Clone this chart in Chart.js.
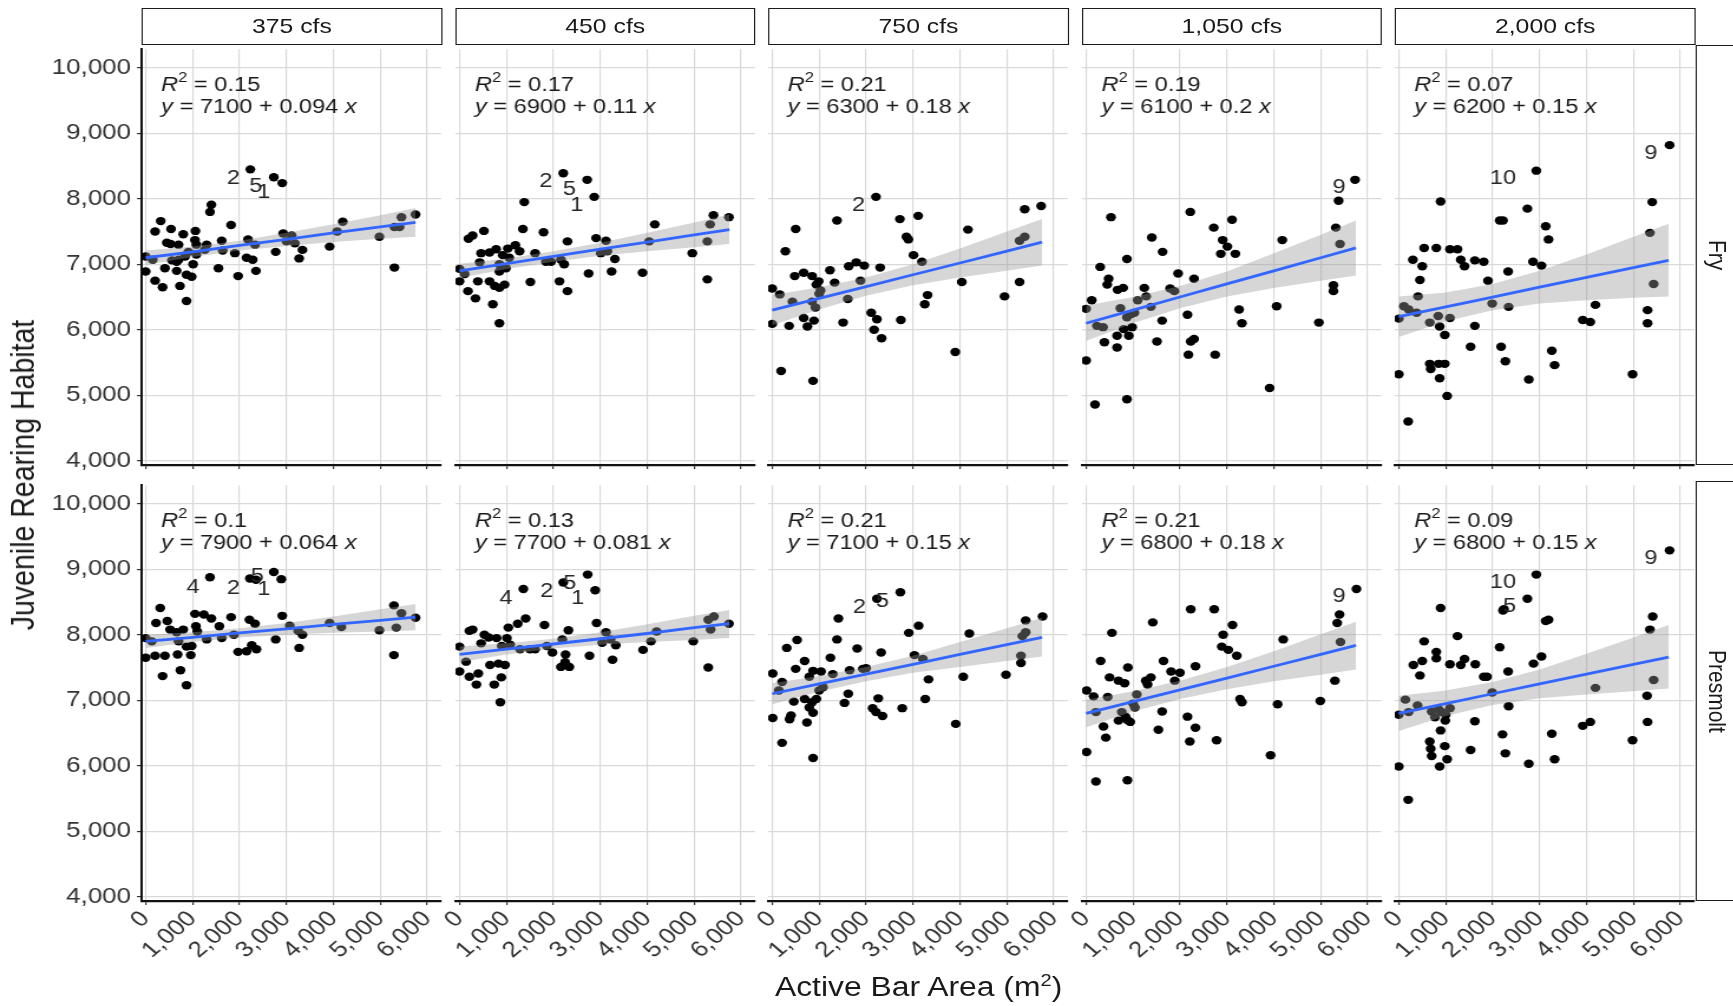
<!DOCTYPE html>
<html>
<head>
<meta charset="utf-8">
<title>Juvenile Rearing Habitat vs Active Bar Area</title>
<script src="https://cdn.jsdelivr.net/npm/chart.js@4.4.1/dist/chart.umd.min.js"></script>
<style>
  html, body { margin: 0; padding: 0; background: #fff; overflow: hidden; }
  /* the original figure is stretched sideways, so everything is laid out narrow and scaled */
  #fig { position: absolute; left: 0; top: 0; width: 1469px; height: 1006px;
         transform: scaleX(1.18); transform-origin: 0 0;
         font-family: "Liberation Sans", Arial, sans-serif; color: #1a1a1a; }
  #fig canvas { position: absolute; }
  .strip { position: absolute; box-sizing: border-box; border: 1.4px solid #1a1a1a; background: #fff;
           display: flex; align-items: center; justify-content: center; font-size: 21px; }
  .rstrip { writing-mode: vertical-rl; }
  .title { position: absolute; font-size: 27px; white-space: nowrap; }
</style>
</head>
<body>
<div id="fig"></div>
<script>
// ---- data ----
const flows = ['375 cfs', '450 cfs', '750 cfs', '1,050 cfs', '2,000 cfs'];
const stages = ['Fry', 'Presmolt'];
const xTicks = [0, 1000, 2000, 3000, 4000, 5000, 6000];
const yTicks = [4000, 5000, 6000, 7000, 8000, 9000, 10000];

const r2Fry = ['0.15', '0.17', '0.21', '0.19', '0.07'];
const eqFry = ['7100 + 0.094', '6900 + 0.11', '6300 + 0.18', '6100 + 0.2', '6200 + 0.15'];
const r2Pre = ['0.1', '0.13', '0.21', '0.21', '0.09'];
const eqPre = ['7900 + 0.064', '7700 + 0.081', '7100 + 0.15', '6800 + 0.18', '6800 + 0.15'];

// points: [active bar area, habitat]
const fry375 = [[2230,8450],[2730,8330],[2910,8240],[1400,7910],[1370,7800],[320,7660],[200,7500],[540,7540],[800,7460],[1060,7510],[1820,7600],[450,7330],[700,7300],[530,7310],[1050,7370],[1080,7300],[1300,7300],[1260,7220],[1620,7360],[1640,7210],[1900,7170],[2180,7380],[2330,7300],[2150,7100],[2280,7070],[2350,6900],[1970,6820],[1550,6940],[2770,7190],[2930,7470],[3110,7440],[3000,7350],[3180,7320],[3340,7220],[3270,7090],[3920,7270],[4080,7500],[4200,7650],[4980,7420],[5300,6950],[5300,7570],[5450,7720],[5410,7570],[5750,7760],[0,7120],[0,6890],[200,6750],[360,6650],[410,6940],[660,6900],[730,6670],[870,6440],[870,6840],[980,6810],[1010,7000],[700,7070],[840,7120],[910,7190],[150,7070],[660,7040],[560,7060],[1080,7150]];
const fry450 = [[2210,8390],[2720,8290],[2870,8030],[1380,7950],[1350,7540],[1790,7490],[520,7510],[280,7440],[190,7390],[2300,7350],[2910,7400],[3120,7360],[4160,7610],[5410,7750],[5740,7720],[5340,7610],[5280,7350],[4960,7170],[4040,7350],[5280,6770],[3900,6870],[3240,6890],[2750,6860],[2300,6590],[2130,6740],[1510,6730],[2230,7000],[2160,7070],[1950,7040],[1840,7040],[1610,7170],[3310,7080],[3010,7170],[3150,7200],[1280,7200],[1190,7290],[1030,7240],[780,7230],[640,7180],[460,7170],[430,7030],[850,7000],[990,6940],[850,6890],[0,6930],[110,6850],[0,6740],[180,6590],[340,6480],[390,6740],[640,6740],[750,6670],[850,6640],[960,6690],[710,6390],[850,6100],[1060,7100],[920,7140]];
const fry750 = [[2210,8030],[1380,7670],[500,7540],[280,7200],[2720,7690],[3110,7740],[2860,7420],[2900,7380],[4170,7530],[5380,7840],[5730,7890],[5380,7420],[5270,7360],[3010,7140],[3190,7040],[2300,6950],[1630,6970],[1790,7030],[1960,6980],[1230,6910],[1330,6720],[1880,6750],[1610,6470],[1030,6600],[990,6740],[850,6820],[670,6870],[480,6820],[0,6630],[160,6540],[430,6430],[850,6430],[920,6340],[890,6140],[670,6180],[750,6050],[360,6060],[0,6090],[1510,6110],[2110,6260],[2230,6160],[2170,6000],[2330,5870],[2740,6150],[3310,6530],[3250,6390],[4040,6730],[4950,6510],[5270,6730],[3900,5660],[190,5370],[870,5220],[1000,6550],[940,6690]];
const fry1050 = [[5730,8290],[5380,7970],[5320,7560],[5410,7310],[5270,6680],[5270,6590],[4960,6110],[4180,7370],[4060,6360],[3910,5110],[530,7720],[2220,7800],[2720,7560],[3110,7680],[2910,7370],[3010,7270],[2870,7160],[3180,7160],[1400,7410],[1630,7190],[870,7080],[300,6960],[1960,6860],[2300,6780],[480,6780],[450,6690],[670,6610],[790,6640],[1240,6640],[1280,6510],[1790,6630],[1880,6590],[1100,6450],[1380,6350],[120,6450],[0,6320],[730,6330],[960,6240],[1030,6260],[230,6060],[360,6040],[870,6190],[800,6010],[980,6040],[910,5910],[660,5910],[660,5730],[390,5810],[1620,6140],[2160,6230],[3260,6310],[3320,6100],[1510,5820],[2300,5860],[2230,5820],[2180,5620],[2750,5620],[0,5530],[190,4860],[870,4940]];
const fry2000 = [[5770,8820],[5400,7950],[5350,7480],[5430,6700],[5300,6300],[5300,6100],[4980,5320],[4190,6380],[3920,6150],[4080,6120],[2930,8430],[2740,7850],[2150,7670],[2220,7670],[3130,7580],[3190,7380],[2860,7040],[3040,6980],[2330,6890],[1900,6750],[1990,6400],[2340,6350],[1620,7060],[1810,7040],[1250,7230],[1090,7230],[800,7250],[540,7250],[300,7070],[500,6970],[1320,7070],[1400,6970],[450,6760],[410,6510],[890,7960],[110,6360],[210,6310],[380,6260],[0,6170],[660,6110],[840,6210],[1090,6180],[870,6050],[980,5920],[1620,6060],[1530,5740],[2180,5740],[2270,5520],[2770,5240],[3260,5680],[3320,5460],[660,5480],[980,5480],[870,5260],[1030,4990],[0,5320],[200,4600],[680,5400],[850,5480]];
const pre375 = [[2730,8960],[2890,8850],[2220,8860],[2350,8840],[1370,8880],[310,8410],[220,8180],[460,8210],[1050,8320],[1240,8310],[1400,8250],[1820,8270],[2210,8230],[2330,8170],[2910,8290],[3070,8140],[3250,8060],[3340,8000],[3920,8180],[4170,8120],[4980,8070],[5290,8450],[5450,8330],[5340,8110],[5750,8260],[5290,7690],[3270,7800],[2770,7930],[1570,8130],[1620,7950],[1300,7930],[1070,8130],[800,8080],[520,8080],[660,8040],[700,7900],[130,7900],[0,7950],[0,7650],[200,7680],[410,7680],[680,7700],[960,7690],[980,7830],[870,7820],[360,7370],[740,7460],[870,7230],[1970,7740],[2150,7750],[2260,7840],[2360,7780],[1880,8000],[1100,8050]];
const pre450 = [[2730,8920],[2890,8680],[2210,8800],[1360,8700],[1410,8250],[1240,8170],[1040,8110],[280,8080],[210,8060],[1810,8150],[2320,8070],[2920,8180],[3120,8040],[3040,7880],[3220,7930],[3330,7840],[4200,8050],[4080,7900],[3910,7770],[4980,7900],[5300,7500],[5420,8280],[5300,8230],[5350,8080],[5740,8170],[3260,7620],[2770,7680],[2260,7700],[2250,7580],[2160,7510],[2340,7510],[2190,7930],[1980,7730],[1860,7830],[1610,7780],[1500,7780],[1290,7780],[530,8000],[460,7870],[620,7960],[790,7950],[1010,7950],[900,7830],[1080,7850],[0,7820],[140,7590],[0,7440],[210,7360],[400,7410],[360,7240],[740,7240],[890,7350],[650,7540],[830,7560],[970,7540],[870,6970]];
const pre750 = [[2730,8650],[2230,8550],[1410,8250],[1380,7930],[530,7920],[310,7800],[690,7600],[500,7480],[1240,7650],[1810,7790],[2320,7730],[2910,8030],[3120,8140],[3030,7690],[3210,7630],[4200,8020],[5400,8220],[5760,8280],[5400,8040],[5330,7980],[5300,7680],[5300,7570],[4980,7390],[4070,7360],[3330,7320],[3260,7020],[2770,6880],[3910,6640],[2260,7030],[2140,6880],[2350,6760],[2210,6820],[1620,7100],[1540,6960],[1650,7460],[1930,7480],[2000,7490],[1290,7400],[1040,7440],[870,7450],[790,7360],[210,7280],[10,7410],[140,7150],[460,6980],[690,7020],[850,6970],[940,7020],[790,6890],[870,6810],[400,6770],[370,6710],[10,6730],[740,6660],[210,6350],[870,6120],[1080,7200],[1000,7150]];
const pre1050 = [[5760,8700],[5400,8310],[5350,8180],[5420,7890],[5300,7300],[4990,6990],[4200,7930],[4080,6940],[3930,6160],[2230,8390],[2730,8390],[1420,8190],[550,8030],[3120,8150],[2920,8000],[2890,7820],[3030,7770],[3210,7680],[2330,7520],[1650,7600],[1810,7440],[2000,7420],[1890,7300],[890,7500],[310,7600],[500,7350],[690,7300],[820,7260],[1270,7300],[1380,7350],[1310,7240],[3280,7020],[3320,6970],[10,7150],[160,7060],[460,7050],[1080,7090],[1040,6890],[210,6820],[760,6820],[690,6690],[940,6670],[840,6750],[1620,6830],[2160,6750],[2330,6580],[1540,6550],[370,6600],[420,6430],[2210,6370],[2780,6390],[10,6210],[210,5760],[880,5780],[1000,6950],[880,6700]];
const pre2000 = [[5770,9290],[5410,8280],[5350,8080],[5430,7310],[5290,7070],[5300,6670],[4980,6390],[4190,7190],[3920,6610],[4080,6670],[2930,8920],[2740,8550],[2220,8370],[2240,8390],[3130,8210],[3190,8230],[3040,7670],[2870,7560],[2150,7810],[2330,7440],[1810,7360],[1880,7360],[1990,7120],[2340,6910],[1630,7550],[1400,7630],[1320,7540],[1250,7980],[1090,7550],[890,8410],[540,7900],[800,7740],[800,7640],[500,7600],[310,7540],[450,7380],[140,7010],[0,6780],[210,6820],[400,6920],[700,6830],[770,6740],[910,6820],[1090,6880],[990,6690],[890,6540],[1620,6680],[2210,6480],[2270,6190],[2770,6030],[3260,6490],[3320,6100],[1530,6240],[660,6370],[680,6260],[700,6150],[980,6300],[1030,6100],[870,5990],[0,5990],[200,5480],[850,6860],[1000,6780]];
const fryPts = [fry375, fry450, fry750, fry1050, fry2000];
const prePts = [pre375, pre450, pre750, pre1050, pre2000];

// fitted line and 95% band, read at these x positions
const bandX = [0, 1000, 2000, 3000, 4000, 5000, 5750];
const fitFry = [[7100,7190,7290,7380,7480,7570,7640],[6900,7010,7120,7230,7340,7450,7530],[6300,6480,6660,6840,7020,7200,7340],[6100,6300,6500,6700,6900,7100,7250],[6200,6350,6500,6650,6800,6950,7060]];
const loFry  = [[6990,7110,7210,7280,7340,7390,7420],[6790,6930,7040,7130,7200,7260,7310],[6070,6310,6520,6680,6800,6900,6980],[5830,6100,6330,6510,6640,6750,6830],[5890,6130,6300,6400,6450,6490,6510]];
const hiFry  = [[7210,7270,7360,7480,7610,7750,7860],[7010,7090,7200,7330,7480,7640,7760],[6530,6650,6800,7000,7240,7500,7690],[6370,6500,6670,6890,7170,7450,7670],[6510,6570,6700,6900,7150,7420,7620]];
const fitPre = [[7900,7960,8030,8090,8160,8220,8270],[7700,7780,7860,7940,8020,8110,8170],[7100,7250,7400,7550,7700,7850,7960],[6800,6980,7160,7340,7520,7700,7840],[6800,6950,7100,7250,7400,7550,7660]];
const loPre  = [[7800,7890,7960,8000,8030,8050,8070],[7580,7700,7790,7850,7890,7920,7950],[6940,7130,7290,7420,7510,7600,7670],[6590,6830,7020,7170,7290,7390,7470],[6530,6760,6930,7030,7090,7140,7180]];
const hiPre  = [[8000,8040,8100,8180,8280,8390,8470],[7820,7870,7940,8040,8160,8290,8380],[7260,7370,7510,7680,7890,8100,8260],[7010,7140,7300,7510,7750,8010,8200],[7070,7150,7280,7470,7710,7960,8150]];

// site labels: [text, x, y]
const labFry = [
  [['2',1870,8310],['5',2350,8190],['1',2520,8100]],
  [['2',1840,8260],['5',2340,8150],['1',2500,7900]],
  [['2',1840,7900]],
  [['9',5390,8170]],
  [['9',5370,8690],['10',2220,8310]]
];
const labPre = [
  [['4',1010,8730],['2',1870,8710],['5',2380,8890],['1',2520,8700]],
  [['4',990,8560],['2',1860,8660],['5',2350,8790],['1',2520,8550]],
  [['2',1860,8410],['5',2350,8510]],
  [['9',5390,8580]],
  [['9',5370,9170],['10',2220,8800],['5',2360,8430]]
];

// ---- layout (px of the final picture) ----
const S = 1.18;
const colLeft = [141.7, 455.0, 768.3, 1081.6, 1395.0];
const panelW = 300.5, panelH = 420, rowTop = [45, 481];
const FONT = '"Liberation Sans", Arial, sans-serif';
const fig = document.getElementById('fig');
const fmt = v => v.toLocaleString('en-US');

Chart.defaults.font.family = FONT;

function addDiv(cls, html, l, t, w, h) {
  const d = document.createElement('div');
  d.className = cls;
  d.innerHTML = html;
  Object.assign(d.style, { left: l / S + 'px', top: t + 'px', width: w / S + 'px', height: h + 'px' });
  fig.appendChild(d);
  return d;
}

flows.forEach((f, c) => addDiv('strip', f, colLeft[c], 8, panelW, 36.5));
stages.forEach((s, r) => addDiv('strip rstrip', s, 1696, rowTop[r], 42, panelH));

function drawRich(ctx, parts, x, y) {
  parts.forEach(p => {
    ctx.font = (p.it ? 'italic ' : '') + (p.sup ? 14 : 20) + 'px ' + FONT;
    ctx.fillText(p.t, x, p.sup ? y - 9 : y);
    x += ctx.measureText(p.t).width;
  });
}

function annot(r2, eq, labels) {
  return {
    id: 'annot',
    afterDatasetsDraw(chart) {
      const { ctx, chartArea: a, scales } = chart;
      ctx.save();
      ctx.fillStyle = '#1a1a1a';
      ctx.textAlign = 'left';
      ctx.textBaseline = 'alphabetic';
      const x0 = a.left + 16.5;
      drawRich(ctx, [{ t: 'R', it: true }, { t: '2', sup: true }, { t: ' = ' + r2 }], x0, a.top + 42);
      drawRich(ctx, [{ t: 'y', it: true }, { t: ' = ' + eq + ' ' }, { t: 'x', it: true }], x0, a.top + 64);
      ctx.font = '20px ' + FONT;
      ctx.textAlign = 'center';
      ctx.textBaseline = 'middle';
      ctx.fillStyle = '#262626';
      labels.forEach(([t, x, y]) => ctx.fillText(t, scales.x.getPixelForValue(x), scales.y.getPixelForValue(y)));
      ctx.restore();
    }
  };
}

function panel(r, c, pts, fit, lo, hi, r2, eq, labels) {
  const padL = c === 0 ? colLeft[0] : 26;
  const padB = r === 1 ? 80 : 8;
  const yW = padL / S;
  const w = Math.ceil(yW + panelW / S + 3);
  const cv = document.createElement('canvas');
  cv.width = w;
  cv.height = panelH + padB;
  cv.style.left = (colLeft[c] / S - yW) + 'px';
  cv.style.top = rowTop[r] + 'px';
  fig.appendChild(cv);

  const line = ys => ys.map((y, i) => ({ x: bandX[i], y }));
  new Chart(cv, {
    type: 'scatter',
    data: {
      datasets: [
        { type: 'line', data: line(fit), borderColor: '#3366FF', borderWidth: 2.8, pointRadius: 0, fill: false, order: 1 },
        { type: 'line', data: line(hi), borderWidth: 0, borderColor: 'rgba(0,0,0,0)', pointRadius: 0,
          fill: '+1', backgroundColor: 'rgba(153,153,153,0.4)', order: 2 },
        { type: 'line', data: line(lo), borderWidth: 0, borderColor: 'rgba(0,0,0,0)', pointRadius: 0, fill: false, order: 2 },
        { data: pts.map(([x, y]) => ({ x, y })), pointRadius: 4.2, backgroundColor: '#000', borderWidth: 0, order: 3 }
      ]
    },
    options: {
      responsive: false,
      animation: false,
      events: [],
      layout: { padding: { left: 0, top: 0, bottom: 0, right: w - yW - panelW / S } },
      plugins: { legend: { display: false }, tooltip: { enabled: false } },
      scales: {
        x: {
          type: 'linear', min: -85, max: 6295,
          afterBuildTicks: s => { s.ticks = xTicks.map(value => ({ value })); },
          afterFit: s => { s.height = padB; s.paddingLeft = 0; s.paddingRight = 0; },
          grid: { color: '#d9d9d9', lineWidth: 1.2, tickLength: 4, tickColor: '#333' },
          border: { display: true, color: '#111', width: 2.2 },
          ticks: { display: r === 1, color: '#333', font: { size: 22 }, minRotation: 45, maxRotation: 45,
                   autoSkip: false, padding: 1, callback: v => fmt(v) }
        },
        y: {
          type: 'linear', min: 3935, max: 10285,
          afterBuildTicks: s => { s.ticks = yTicks.map(value => ({ value })); },
          afterFit: s => { s.width = yW; s.paddingTop = 0; s.paddingBottom = 0; },
          grid: { color: '#d9d9d9', lineWidth: 1.2, drawTicks: c === 0, tickLength: 4, tickColor: '#333' },
          border: { display: c === 0, color: '#111', width: 2 },
          ticks: { display: c === 0, color: '#333', font: { size: 22 }, padding: 5, callback: v => fmt(v) }
        }
      }
    },
    plugins: [annot(r2, eq, labels)]
  });
}

for (let c = 0; c < 5; c++) {
  panel(0, c, fryPts[c], fitFry[c], loFry[c], hiFry[c], r2Fry[c], eqFry[c], labFry[c]);
  panel(1, c, prePts[c], fitPre[c], loPre[c], hiPre[c], r2Pre[c], eqPre[c], labPre[c]);
}

const yt = addDiv('title', 'Juvenile Rearing Habitat', 23, 475, 0, 0);
Object.assign(yt.style, { width: 'auto', height: 'auto', fontSize: '28.5px', transform: 'translate(-50%, -50%) rotate(-90deg)' });
const xt = addDiv('title', 'Active Bar Area (m<sup style="font-size:17px;line-height:0">2</sup>)', 918.6, 987, 0, 0);
Object.assign(xt.style, { width: 'auto', height: 'auto', transform: 'translate(-50%, -50%)' });
</script>
</body>
</html>
